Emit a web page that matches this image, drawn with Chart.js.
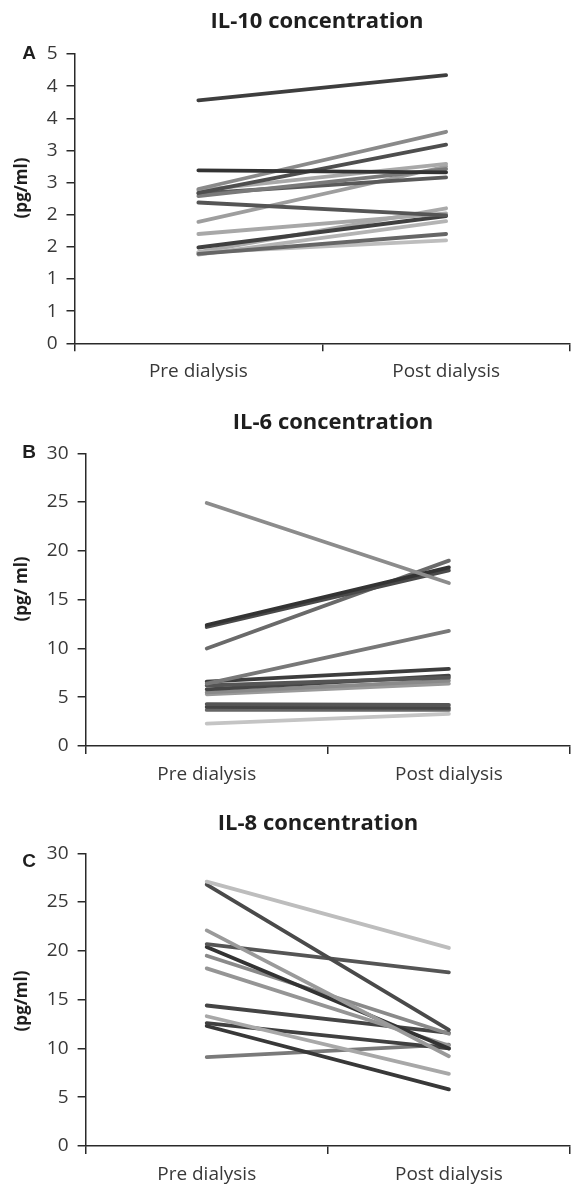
<!DOCTYPE html>
<html><head><meta charset="utf-8">
<script src="https://cdn.jsdelivr.net/npm/chart.js@4.4.1/dist/chart.umd.min.js"></script>
<style>
html,body{margin:0;padding:0;background:#fff;}
#wrap{position:relative;width:571px;height:1184px;overflow:hidden;background:#fff;}
canvas{position:absolute;left:0;}
</style></head><body>
<div id="wrap">
<canvas id="cA" width="571" height="400" style="top:0px;width:571px;height:400px"></canvas>
<canvas id="cB" width="571" height="400" style="top:400px;width:571px;height:400px"></canvas>
<canvas id="cC" width="571" height="384" style="top:800px;width:571px;height:384px"></canvas>
</div>
<script>
// ---- data ----
const categories = ["Pre dialysis", "Post dialysis"];

const il10Pre  = [3.78, 2.69, 2.40, 2.34, 2.38, 2.29, 2.33, 2.19, 1.89, 1.70, 1.49, 1.39, 1.41, 1.38, 1.42];
const il10Post = [4.17, 2.66, 3.29, 3.09, 2.79, 2.71, 2.58, 1.99, 2.75, 2.02, 1.98, 1.70, 1.60, 1.90, 2.10];
const il10Ticks = ["0", "1", "1", "2", "2", "3", "3", "4", "4", "5"];

const il6Pre  = [24.9, 12.4, 12.2, 10.0, 6.4, 6.6, 6.2, 5.8, 5.5, 5.3, 4.3, 4.0, 3.7, 2.3];
const il6Post = [16.7, 18.3, 18.0, 19.0, 11.8, 7.9, 7.0, 7.2, 6.7, 6.4, 4.2, 3.9, 3.7, 3.3];
const il6Ticks = ["0", "5", "10", "15", "20", "25", "30"];

const il8Pre  = [27.1, 26.8, 22.1, 20.7, 20.4, 19.5, 18.2, 14.4, 13.3, 12.6, 12.3, 9.1];
const il8Post = [20.3, 11.9, 9.2, 17.8, 10.0, 11.5, 10.3, 11.6, 7.4, 10.0, 5.8, 10.4];
const il8Ticks = ["0", "5", "10", "15", "20", "25", "30"];

// ---- styles ----
const il10Colors = ["#3e3e3e","#333333","#8a8a8a","#4e4e4e","#a9a9a9","#7a7a7a","#5a5a5a","#555555","#9e9e9e","#a8a8a8","#404040","#666666","#bdbdbd","#b4b4b4","#aaaaaa"];
const il6Colors  = ["#8c8c8c","#333333","#4a4a4a","#6a6a6a","#787878","#3d3d3d","#555555","#454545","#8a8a8a","#9a9a9a","#555555","#444444","#666666","#c4c4c4"];
const il8Colors  = ["#bdbdbd","#4a4a4a","#9a9a9a","#555555","#333333","#8a8a8a","#959595","#444444","#a8a8a8","#404040","#383838","#7a7a7a"];

const FONT = "'Open Sans', 'Liberation Sans', sans-serif";
const AXIS = "#2a2a2a";

const panelText = {
  id: 'panelText',
  afterDraw(chart, args, o) {
    const ctx = chart.ctx;
    ctx.save();
    ctx.fillStyle = '#1e1e1e';
    ctx.textAlign = 'center';
    ctx.textBaseline = 'middle';
    ctx.font = "bold 22px " + FONT;
    ctx.fillText(o.title, o.titleX, o.titleY);
    ctx.font = "bold 19px 'Liberation Sans', Arial, sans-serif";
    ctx.fillText(o.letter, o.letterX, o.letterY);
    ctx.translate(o.yTitleX, o.yTitleY);
    ctx.rotate(-Math.PI / 2);
    ctx.font = "bold 17px " + FONT;
    ctx.fillText(o.yTitle, 0, 0);
    ctx.restore();
  }
};

function makeChart(id, pre, post, colors, ticks, yMax, yStep, yWidth, xHeight, padTop, txt) {
  const datasets = pre.map((v, i) => ({
    data: [pre[i], post[i]],
    borderColor: colors[i],
    borderWidth: 3.8,
    borderCapStyle: 'round',
    pointRadius: 0,
    fill: false,
    tension: 0
  }));
  return new Chart(document.getElementById(id), {
    type: 'line',
    data: { labels: categories, datasets },
    plugins: [panelText],
    options: {
      responsive: false,
      animation: false,
      devicePixelRatio: 1,
      layout: { padding: { top: padTop, right: 1, left: 0, bottom: 0 } },
      plugins: { legend: { display: false }, tooltip: { enabled: false }, panelText: txt },
      scales: {
        x: {
          type: 'category',
          offset: true,
          grid: { offset: true, drawOnChartArea: false, drawTicks: true, tickLength: 8, color: AXIS, lineWidth: 1.5 },
          border: { display: true, color: AXIS, width: 1.5 },
          ticks: { font: { family: FONT, size: 19 }, color: '#383838', padding: 9, maxRotation: 0 },
          afterFit(s) { s.height = xHeight; }
        },
        y: {
          min: 0, max: yMax,
          grid: { drawOnChartArea: false, drawTicks: true, tickLength: 8, color: AXIS, lineWidth: 1.5 },
          border: { display: true, color: AXIS, width: 1.5 },
          ticks: { stepSize: yStep, font: { family: FONT, size: 19 }, color: '#383838', padding: 9,
                   callback: (v, i) => ticks[i] },
          afterFit(s) { s.width = yWidth; }
        }
      }
    }
  });
}

makeChart('cA', il10Pre, il10Post, il10Colors, il10Ticks, 4.5, 0.5, 74.5, 56.7, 54,
  { title: 'IL-10 concentration', titleX: 317, titleY: 22, letter: 'A', letterX: 29, letterY: 54,
    yTitle: '(pg/ml)', yTitleX: 22, yTitleY: 188 });
makeChart('cB', il6Pre, il6Post, il6Colors, il6Ticks, 30, 5, 85.6, 54, 53.3,
  { title: 'IL-6 concentration', titleX: 333, titleY: 23, letter: 'B', letterX: 29, letterY: 53,
    yTitle: '(pg/ ml)', yTitleX: 22, yTitleY: 189 });
makeChart('cC', il8Pre, il8Post, il8Colors, il8Ticks, 30, 5, 85.6, 38, 53.3,
  { title: 'IL-8 concentration', titleX: 318, titleY: 24, letter: 'C', letterX: 29, letterY: 62,
    yTitle: '(pg/ml)', yTitleX: 22, yTitleY: 201 });
</script>
</body></html>
